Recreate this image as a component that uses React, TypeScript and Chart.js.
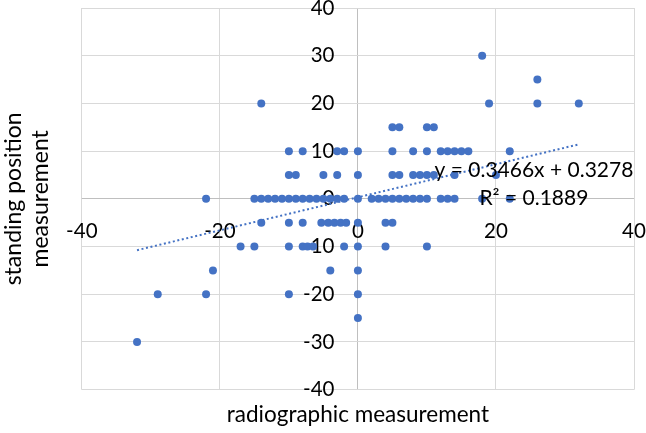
import React, { useEffect, useRef } from "react";
import { Chart, registerables } from "chart.js";

Chart.register(...registerables);

// ---- data ----
const radiographic: number[] = [
  // y = 0 row
  -22, -15, -14, -13, -12, -11, -10, -9, -8, -7, -6, -5, -4, -3, -2, 0,
  2, 3, 4, 5, 6, 7, 8, 9, 10, 12, 13, 14, 18, 22,
  // y = 5 row
  -10, -9, -5, -3, 0, 5, 6, 8, 9, 10, 11, 14, 20,
  // y = 10 row
  -10, -8, -3, -2, 0, 5, 8, 10, 12, 13, 14, 15, 16, 22,
  // y = 15 row
  5, 6, 10, 11,
  // y = 20 row
  -14, 19, 26, 32,
  // y = 25, 30
  26, 18,
  // y = -5 row
  -14, -10, -8, -5.3, -4.3, -3.4, -2.5, -1.7, 0, 4, 5,
  // y = -10 row
  -17, -15, -10, -8, -7.3, -6.5, -2, 0, 4, 10,
  // y = -15 row
  -21, -4, 0,
  // y = -20 row
  -29, -22, -10, 0,
  // y = -25, -30
  0, -32,
];

const standing: number[] = [
  0, 0, 0, 0, 0, 0, 0, 0, 0, 0, 0, 0, 0, 0, 0, 0,
  0, 0, 0, 0, 0, 0, 0, 0, 0, 0, 0, 0, 0, 0,
  5, 5, 5, 5, 5, 5, 5, 5, 5, 5, 5, 5, 5,
  10, 10, 10, 10, 10, 10, 10, 10, 10, 10, 10, 10, 10, 10,
  15, 15, 15, 15,
  20, 20, 20, 20,
  25, 30,
  -5, -5, -5, -5, -5, -5, -5, -5, -5, -5, -5,
  -10, -10, -10, -10, -10, -10, -10, -10, -10, -10,
  -15, -15, -15,
  -20, -20, -20, -20,
  -25, -30,
];

const trendSlope = 0.3466;
const trendIntercept = 0.3278;
const rSquared = 0.1889;

const xTicks: number[] = [-40, -20, 0, 20, 40];
const yTicks: number[] = [-40, -30, -20, -10, 0, 10, 20, 30, 40];

const xTitle = "radiographic measurement";
const yTitle = ["standing position", "measurement"];

const FONT = "Lato";
const BLUE = "#4472c4";

export default function App() {
  const ref = useRef<HTMLCanvasElement | null>(null);

  useEffect(() => {
    if (!ref.current) return;
    const points = radiographic.map((x, i) => ({ x, y: standing[i] }));
    const minX = Math.min(...radiographic);
    const maxX = Math.max(...radiographic);
    const trend = [
      { x: minX, y: trendSlope * minX + trendIntercept },
      { x: maxX, y: trendSlope * maxX + trendIntercept },
    ];

    const eqLabel = {
      id: "eqLabel",
      afterDatasetsDraw(chart: any) {
        const { ctx, scales } = chart;
        const cx = scales.x.getPixelForValue(25.5);
        const cy = scales.y.getPixelForValue(6.1);
        ctx.save();
        ctx.fillStyle = "#000";
        ctx.font = `21px ${FONT}`;
        ctx.textAlign = "center";
        ctx.textBaseline = "middle";
        ctx.fillText(`y = ${trendSlope}x + ${trendIntercept}`, cx, cy);
        ctx.fillText(`R² = ${rSquared}`, cx, cy + 28);
        ctx.restore();
      },
    };

    const chart = new Chart(ref.current, {
      type: "scatter",
      data: {
        datasets: [
          {
            data: points,
            backgroundColor: BLUE,
            borderWidth: 0,
            pointRadius: 4,
            pointHoverRadius: 4,
          } as any,
          {
            data: trend,
            showLine: true,
            borderColor: BLUE,
            borderWidth: 2,
            borderDash: [2, 2.6],
            pointRadius: 0,
            fill: false,
          } as any,
        ],
      },
      options: {
        animation: false,
        responsive: false,
        layout: { padding: { top: 8, right: 12, left: 0, bottom: 0 } },
        plugins: {
          legend: { display: false },
          tooltip: { enabled: false },
          title: {
            display: true,
            position: "left",
            text: yTitle,
            color: "#000",
            fullSize: false,
            font: { family: FONT, size: 23, weight: "normal", lineHeight: 1.17 },
            padding: { top: 0, bottom: 28 },
          },
          subtitle: {
            display: true,
            position: "bottom",
            text: xTitle,
            color: "#000",
            fullSize: false,
            font: { family: FONT, size: 22.5, weight: "normal", lineHeight: 1.17 },
            padding: { top: 12, bottom: 5 },
          },
        },
        scales: {
          x: {
            type: "linear",
            position: { y: 0 } as any,
            min: -40,
            max: 40,
            afterBuildTicks: (s: any) => {
              s.ticks = xTicks.map((v) => ({ value: v }));
            },
            afterFit: (s: any) => {
              s.height = 0;
              s.paddingLeft = 0;
              s.paddingRight = 0;
              s.paddingTop = 0;
              s.paddingBottom = 0;
            },
            grid: {
              drawTicks: false,
              color: (c: any) => (c.tick && c.tick.value === 0 ? "#bfbfbf" : "#d9d9d9"),
              lineWidth: 1,
            },
            border: { display: false },
            ticks: {
              padding: 20,
              color: "#000",
              font: { family: FONT, size: 20.5 },
              maxRotation: 0,
            },
          },
          y: {
            type: "linear",
            position: { x: -3.4 } as any,
            min: -40,
            max: 40,
            afterBuildTicks: (s: any) => {
              s.ticks = yTicks.map((v) => ({ value: v }));
            },
            afterFit: (s: any) => {
              s.width = 0;
              s.paddingLeft = 0;
              s.paddingRight = 0;
              s.paddingTop = 0;
              s.paddingBottom = 0;
            },
            grid: {
              drawTicks: false,
              color: (c: any) => (c.tick && c.tick.value === 0 ? "#bfbfbf" : "#d9d9d9"),
              lineWidth: 1,
            },
            border: { display: false },
            ticks: {
              padding: 0,
              color: "#000",
              font: { family: FONT, size: 20.5 },
            },
          },
        },
      },
      plugins: [eqLabel],
    });

    return () => chart.destroy();
  }, []);

  return (
    <div style={{ position: "fixed", left: 0, top: 0, width: 646, height: 433, background: "#fff" }}>
      <canvas ref={ref} width={646} height={433} style={{ display: "block" }} />
    </div>
  );
}
